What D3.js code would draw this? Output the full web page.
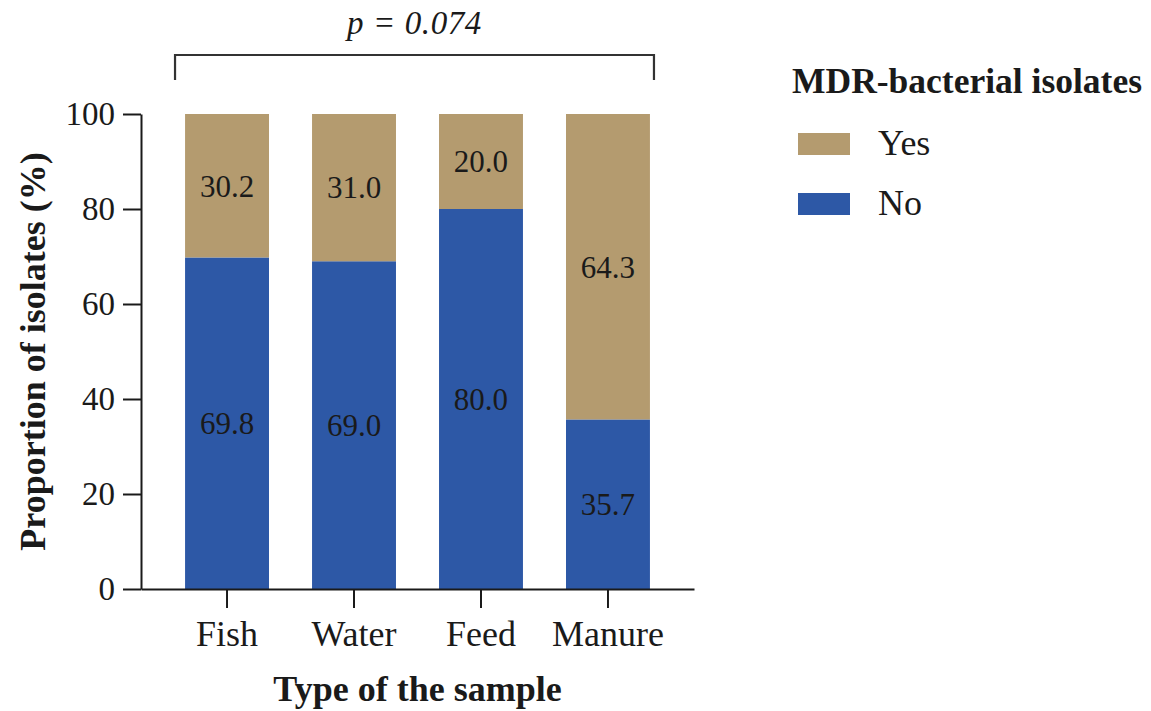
<!DOCTYPE html>
<html>
<head>
<meta charset="utf-8">
<script src="https://cdn.jsdelivr.net/npm/d3@7"></script>
<style>
  html, body { margin: 0; padding: 0; background: #fff; }
  svg { display: block; font-family: "Liberation Serif", "Times New Roman", serif; }
</style>
</head>
<body>
<svg id="chart" width="1151" height="711"></svg>
<script>
// Sample types and the share of isolates (%) that were / were not multidrug-resistant
const categories = ["Fish", "Water", "Feed", "Manure"];
const noValues = [69.8, 69.0, 80.0, 35.7];
const yesValues = [30.2, 31.0, 20.0, 64.3];
const yTicks = [0, 20, 40, 60, 80, 100];
const seriesNames = ["Yes", "No"];
const pLabel = "0.074";

const colors = { Yes: "#B49B6F", No: "#2D58A6" };
const ink = "#1a1a1a";

const svg = d3.select("#chart");

const x = d3.scaleBand()
  .domain(categories)
  .range([141, 694])
  .paddingInner(0.339)
  .paddingOuter(0.347);

const y = d3.scaleLinear().domain([0, 100]).range([589, 114]);

const rows = categories.map((c, i) => ({ cat: c, No: noValues[i], Yes: yesValues[i] }));
const stacked = d3.stack().keys(["No", "Yes"])(rows);

// stacked bars
const layers = svg.append("g").selectAll("g")
  .data(stacked)
  .join("g")
  .attr("fill", d => colors[d.key]);

layers.selectAll("rect")
  .data(d => d)
  .join("rect")
  .attr("x", d => x(d.data.cat))
  .attr("width", x.bandwidth())
  .attr("y", d => y(d[1]))
  .attr("height", d => y(d[0]) - y(d[1]));

// value labels centred in each segment
layers.selectAll("text")
  .data(d => d.map(s => ({ s, key: d.key })))
  .join("text")
  .attr("x", d => x(d.s.data.cat) + x.bandwidth() / 2)
  .attr("y", d => y((d.s[0] + d.s[1]) / 2))
  .attr("dy", "0.35em")
  .attr("text-anchor", "middle")
  .attr("fill", ink)
  .attr("font-size", 31)
  .text(d => d3.format(".1f")(d.s.data[d.key]));

// y axis
const yAxis = svg.append("g")
  .attr("transform", "translate(141,0)")
  .call(d3.axisLeft(y).tickValues(yTicks).tickSize(18).tickPadding(8).tickSizeOuter(0));
yAxis.select(".domain").attr("stroke", ink).attr("stroke-width", 2);
yAxis.selectAll(".tick line").attr("stroke", ink).attr("stroke-width", 2);
yAxis.selectAll(".tick text")
  .attr("font-size", 33).attr("font-family", "Liberation Serif").attr("fill", ink);

// x axis
const xAxis = svg.append("g")
  .attr("transform", "translate(0,589)")
  .call(d3.axisBottom(x).tickSize(19).tickPadding(12).tickSizeOuter(0));
xAxis.select(".domain").attr("stroke", ink).attr("stroke-width", 2);
xAxis.selectAll(".tick line").attr("stroke", ink).attr("stroke-width", 2);
xAxis.selectAll(".tick text")
  .attr("font-size", 36).attr("font-family", "Liberation Serif").attr("fill", ink);

// axis titles
svg.append("text")
  .attr("x", (141 + 694) / 2)
  .attr("y", 701)
  .attr("text-anchor", "middle")
  .attr("font-weight", "bold")
  .attr("font-size", 36)
  .attr("fill", ink)
  .text("Type of the sample");

svg.append("text")
  .attr("transform", `translate(45,${(y(0) + y(100)) / 2}) rotate(-90)`)
  .attr("text-anchor", "middle")
  .attr("font-weight", "bold")
  .attr("font-size", 36)
  .attr("fill", ink)
  .text("Proportion of isolates (%)");

// significance bracket across all groups
const bx0 = x(categories[0]) + x.bandwidth() / 2 - 52;
const bx1 = x(categories[categories.length - 1]) + x.bandwidth() / 2 + 46;
svg.append("path")
  .attr("d", `M${bx0},80 V55 H${bx1} V80`)
  .attr("fill", "none")
  .attr("stroke", "#333")
  .attr("stroke-width", 2.2);

const pText = svg.append("text")
  .attr("x", (bx0 + bx1) / 2)
  .attr("y", 34)
  .attr("text-anchor", "middle")
  .attr("font-style", "italic")
  .attr("font-size", 33)
  .attr("letter-spacing", 0.6)
  .attr("fill", ink);
pText.append("tspan").text("p");
pText.append("tspan").text(" = " + pLabel);

// legend
const legend = svg.append("g");
legend.append("text")
  .attr("x", 792).attr("y", 93)
  .attr("font-weight", "bold")
  .attr("font-size", 35.5)
  .attr("fill", ink)
  .text("MDR-bacterial isolates");

const items = legend.selectAll("g.item")
  .data(seriesNames)
  .join("g")
  .attr("class", "item")
  .attr("transform", (d, i) => `translate(0,${133 + i * 60})`);
items.append("rect")
  .attr("x", 798).attr("y", 0)
  .attr("width", 52).attr("height", 22)
  .attr("fill", d => colors[d]);
items.append("text")
  .attr("x", 878).attr("y", 22)
  .attr("font-size", 36)
  .attr("fill", ink)
  .text(d => d);
</script>
</body>
</html>
